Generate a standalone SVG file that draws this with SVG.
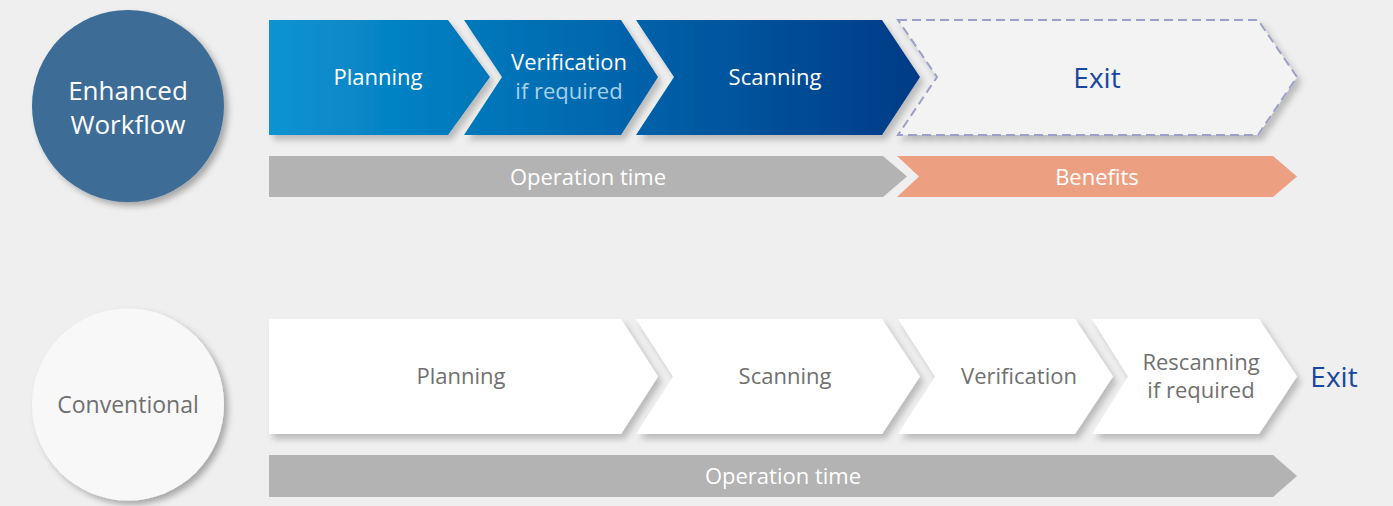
<svg xmlns="http://www.w3.org/2000/svg" width="1393" height="506" viewBox="0 0 1393 506">
<defs>
<linearGradient id="blue" gradientUnits="userSpaceOnUse" x1="269" y1="0" x2="920" y2="0">
<stop offset="0" stop-color="#0a93d2"/>
<stop offset="0.45" stop-color="#006cb2"/>
<stop offset="1" stop-color="#003a86"/>
</linearGradient>
<filter id="sh" x="-10%" y="-20%" width="130%" height="150%">
<feDropShadow dx="4" dy="5" stdDeviation="3" flood-color="#000" flood-opacity="0.22"/>
</filter>
<filter id="csh" x="-20%" y="-20%" width="150%" height="150%">
<feDropShadow dx="4" dy="4" stdDeviation="3" flood-color="#000" flood-opacity="0.3"/>
</filter>
</defs>
<style>
text{font-family:"Open Sans","Liberation Sans",sans-serif;text-anchor:middle}
.w{fill:#ffffff;font-size:22px}
.g{fill:#707070;font-size:22px}
.bar{fill:#b3b3b3}
.chev{fill:url(#blue)}
.wc{fill:#ffffff}
</style>
<rect width="1393" height="506" fill="#efefef"/>

<g id="enhanced-circle">
<circle cx="128" cy="106" r="96" fill="#3d6d97" filter="url(#csh)"/>
<text x="128" y="100" style="fill:#fff;font-size:26px">Enhanced</text>
<text x="128" y="134" style="fill:#fff;font-size:26px">Workflow</text>
</g>

<g id="top-planning">
<polygon class="chev" filter="url(#sh)" points="269,20 448,20 490,77 448,135 269,135"/>
<text class="w" x="378" y="85">Planning</text>
</g>
<g id="top-verification">
<polygon class="chev" filter="url(#sh)" points="464,20 621,20 658,77 621,135 464,135 502,77"/>
<text class="w" x="569" y="70">Verification</text>
<text x="569" y="99" style="fill:#a8cfea;font-size:22px">if required</text>
</g>
<g id="top-scanning">
<polygon class="chev" filter="url(#sh)" points="636,20 882,20 920,77 882,135 636,135 674,77"/>
<text class="w" x="775" y="85">Scanning</text>
</g>
<g id="top-exit">
<polygon filter="url(#sh)" points="898,20 1258,20 1297,77 1258,135 898,135 937,77" fill="#f3f3f3" stroke="#9ca0c8" stroke-width="2" stroke-dasharray="9 5"/>
<text x="1097" y="88" style="fill:#17479e;font-size:28px">Exit</text>
</g>
<g id="top-operation-time">
<polygon class="bar" points="269,156 883,156 907,176.5 883,197 269,197"/>
<text class="w" x="588" y="185">Operation time</text>
</g>
<g id="top-benefits">
<polygon points="897,156 1273,156 1297,176.5 1273,197 897,197 919,176.5" fill="#eca081"/>
<text class="w" x="1097" y="185">Benefits</text>
</g>

<g id="conventional-circle">
<circle cx="128" cy="404.5" r="96" fill="#f8f8f8" filter="url(#csh)"/>
<text x="128" y="413" style="fill:#707070;font-size:23px">Conventional</text>
</g>

<g id="bottom-planning">
<polygon class="wc" filter="url(#sh)" points="269,319 621,319 658,376.5 621,434 269,434"/>
<text class="g" x="461" y="384">Planning</text>
</g>
<g id="bottom-scanning">
<polygon class="wc" filter="url(#sh)" points="636,319 882,319 920,376.5 882,434 636,434 673,376.5"/>
<text class="g" x="785" y="384">Scanning</text>
</g>
<g id="bottom-verification">
<polygon class="wc" filter="url(#sh)" points="898,319 1075,319 1113,376.5 1075,434 898,434 935,376.5"/>
<text class="g" x="1019" y="384">Verification</text>
</g>
<g id="bottom-rescanning">
<polygon class="wc" filter="url(#sh)" points="1092,319 1259,319 1297,376.5 1259,434 1092,434 1128,376.5"/>
<text class="g" x="1201" y="370">Rescanning</text>
<text class="g" x="1201" y="398">if required</text>
</g>
<g id="bottom-exit">
<text x="1334" y="387" style="fill:#17479e;font-size:28px">Exit</text>
</g>
<g id="bottom-operation-time">
<polygon class="bar" points="269,455 1273,455 1297,476 1273,497 269,497"/>
<text class="w" x="783" y="484">Operation time</text>
</g>
<g id="connectors"></g>
</svg>
